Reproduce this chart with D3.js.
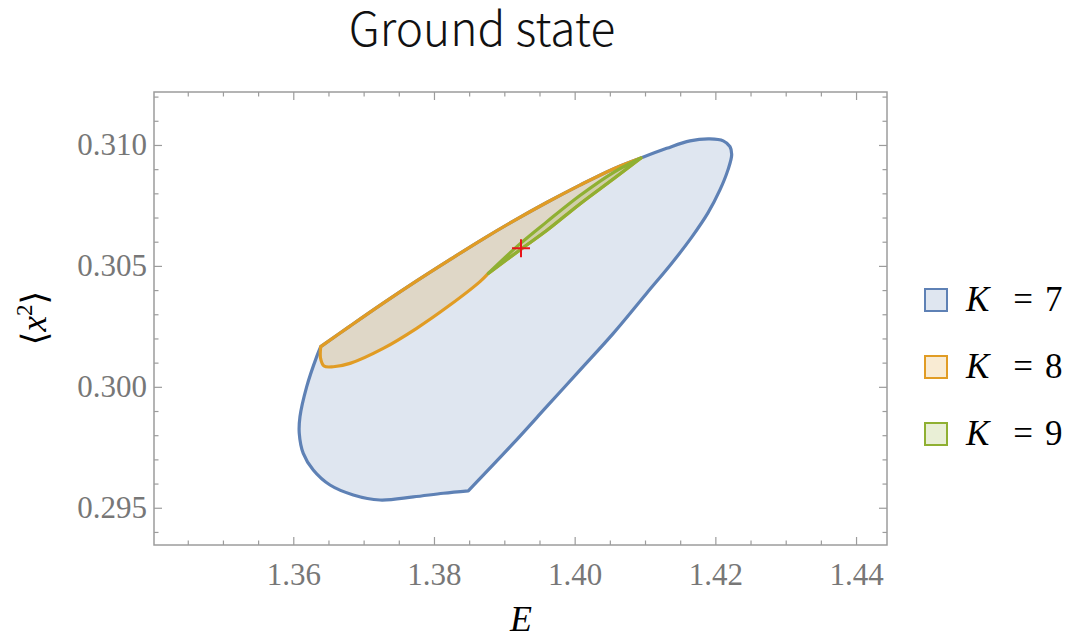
<!DOCTYPE html>
<html>
<head>
<meta charset="utf-8">
<script src="https://cdn.jsdelivr.net/npm/d3@7"></script>
<style>
  body { margin: 0; background: #fff; }
  svg { display: block; }
</style>
</head>
<body>
<svg id="chart" width="1071" height="638"></svg>
<script>
/* Ground state: allowed (E, <x^2>) regions for K = 7, 8, 9 */

// axis ticks
const xMajor = [1.36, 1.38, 1.40, 1.42, 1.44];
const yMajor = [0.295, 0.300, 0.305, 0.310];
const legendLabels = ['7', '8', '9'];

// K = 8 upper edge, also the top edge of K = 7 (left corner -> right tip)
const k8Upper = [
  [1.36390, 0.30166], [1.36806, 0.30251], [1.37279, 0.30346], [1.37754, 0.30438],
  [1.38227, 0.30526], [1.38701, 0.30612], [1.39127, 0.30685], [1.39602, 0.30762],
  [1.40075, 0.30834], [1.40549, 0.30901], [1.40942, 0.30946]
];
// K = 7 right cap and right edge (tip -> bottom corner)
const k7Right = [
  [1.40942, 0.30946], [1.41308, 0.30986], [1.41639, 0.31017], [1.41923, 0.31025],
  [1.42112, 0.31017], [1.42208, 0.30993], [1.42232, 0.30959], [1.42179, 0.30897],
  [1.42065, 0.30814], [1.41895, 0.30719], [1.41667, 0.30620], [1.41383, 0.30512],
  [1.41024, 0.30387], [1.40549, 0.30221], [1.40075, 0.30069], [1.39602, 0.29918],
  [1.39127, 0.29766], [1.38488, 0.29570]
];
// K = 7 bottom and left edge (bottom corner -> left corner)
const k7Left = [
  [1.38488, 0.29570], [1.38132, 0.29560], [1.37706, 0.29545], [1.37232, 0.29532],
  [1.36853, 0.29553], [1.36522, 0.29594], [1.36284, 0.29656], [1.36142, 0.29725],
  [1.36085, 0.29808], [1.36095, 0.29876], [1.36190, 0.30000], [1.36333, 0.30125],
  [1.36390, 0.30166]
];
// K = 9 lens (left tip -> right tip)
const k9Upper = [
  [1.38772, 0.30469], [1.39222, 0.30591], [1.39602, 0.30682], [1.40075, 0.30791],
  [1.40549, 0.30886], [1.40942, 0.30946]
];
const k9Lower = [
  [1.38772, 0.30469], [1.39222, 0.30566], [1.39602, 0.30646], [1.40075, 0.30756],
  [1.40549, 0.30859], [1.40942, 0.30946]
];
// K = 8 lower edge (K = 9 left tip -> left corner)
const k8Lower = [
  [1.38772, 0.30469], [1.38654, 0.30435], [1.38227, 0.30338], [1.37754, 0.30242],
  [1.37279, 0.30159], [1.36806, 0.30097], [1.36569, 0.30083], [1.36436, 0.30086],
  [1.36387, 0.30119], [1.36390, 0.30166]
];
// marked point
const groundPoint = [1.39237, 0.30573];

const colors = ['#5e81b5', '#e19c24', '#8fb032'];

const svg = d3.select('#chart');
const plotLeft = 154, plotRight = 887, plotTop = 92, plotBottom = 545;

const x = d3.scaleLinear().domain([1.3402, 1.4444]).range([plotLeft, plotRight]);
const y = d3.scaleLinear().domain([0.29346, 0.31219]).range([plotBottom, plotTop]);

// title
svg.append('text')
  .attr('x', 482).attr('y', 46)
  .attr('text-anchor', 'middle')
  .style('font-family', '"Noto Sans CJK JP", "Noto Sans", sans-serif')
  .style('font-weight', 300)
  .style('font-size', '46px')
  .attr('fill', '#111')
  .text('Ground state');

// regions
svg.append('clipPath').attr('id', 'plotClip')
  .append('rect').attr('x', plotLeft).attr('y', plotTop)
  .attr('width', plotRight - plotLeft).attr('height', plotBottom - plotTop);

const line = d3.line()
  .x(d => x(d[0]))
  .y(d => y(d[1]))
  .curve(d3.curveCatmullRom.alpha(0.5));

// join several smooth pieces into one closed outline (corners between pieces)
function outline(pieces) {
  return pieces.map((p, i) => {
    const d = line(p);
    return i === 0 ? d : 'L' + d.slice(1);
  }).join('') + 'Z';
}

const regions = [
  [k8Upper, k7Right, k7Left],
  [k8Upper, k9Lower.slice().reverse(), k8Lower],
  [k9Upper, k9Lower.slice().reverse()]
];

const plot = svg.append('g').attr('clip-path', 'url(#plotClip)');
plot.selectAll('path.region').data(regions).enter().append('path')
  .attr('class', 'region')
  .attr('d', d => outline(d))
  .attr('fill', (d, i) => colors[i])
  .attr('fill-opacity', 0.2)
  .attr('stroke', (d, i) => colors[i])
  .attr('stroke-width', 3.2)
  .attr('stroke-linejoin', 'round');

// red cross
const cross = plot.append('g').attr('stroke', '#e8141b').attr('stroke-width', 2);
cross.append('line')
  .attr('x1', x(groundPoint[0]) - 9).attr('x2', x(groundPoint[0]) + 9)
  .attr('y1', y(groundPoint[1])).attr('y2', y(groundPoint[1]));
cross.append('line')
  .attr('x1', x(groundPoint[0])).attr('x2', x(groundPoint[0]))
  .attr('y1', y(groundPoint[1]) - 9).attr('y2', y(groundPoint[1]) + 9);

// frame + ticks (inward on all sides)
const frameColor = '#9c9c9c';
const xMinor = d3.range(1.345, 1.4441, 0.005).filter(v => !xMajor.some(m => Math.abs(m - v) < 1e-6));
const yMinor = d3.range(0.294, 0.3121, 0.001).filter(v => !yMajor.some(m => Math.abs(m - v) < 1e-6));

function tickAxis(axis, transform, values, size, fmt) {
  const g = svg.append('g').attr('transform', transform)
    .call(axis.tickValues(values).tickSizeInner(-size).tickSizeOuter(0).tickFormat(fmt || ''));
  g.select('.domain').remove();
  g.selectAll('.tick line').attr('stroke', frameColor).attr('stroke-width', 1.2);
  return g;
}

const xb = tickAxis(d3.axisBottom(x), `translate(0,${plotBottom})`, xMajor, 8, d3.format('.2f'));
tickAxis(d3.axisBottom(x), `translate(0,${plotBottom})`, xMinor, 4.5);
tickAxis(d3.axisTop(x), `translate(0,${plotTop})`, xMajor, 8);
tickAxis(d3.axisTop(x), `translate(0,${plotTop})`, xMinor, 4.5);
const yl = tickAxis(d3.axisLeft(y), `translate(${plotLeft},0)`, yMajor, 8, d3.format('.3f'));
tickAxis(d3.axisLeft(y), `translate(${plotLeft},0)`, yMinor, 4.5);
tickAxis(d3.axisRight(y), `translate(${plotRight},0)`, yMajor, 8);
tickAxis(d3.axisRight(y), `translate(${plotRight},0)`, yMinor, 4.5);

const serif = '"Liberation Serif", "DejaVu Serif", serif';
xb.selectAll('.tick text').attr('y', 18);
yl.selectAll('.tick text').attr('x', -7);
[xb, yl].forEach(g => g.selectAll('.tick text')
  .attr('fill', '#777')
  .style('font-family', serif)
  .style('font-size', '31px'));

svg.append('rect')
  .attr('x', plotLeft).attr('y', plotTop)
  .attr('width', plotRight - plotLeft).attr('height', plotBottom - plotTop)
  .attr('fill', 'none').attr('stroke', frameColor).attr('stroke-width', 1.5);

// axis labels
svg.append('text')
  .attr('x', 521).attr('y', 631)
  .attr('text-anchor', 'middle')
  .style('font-family', serif).style('font-style', 'italic').style('font-size', '36px')
  .text('E');

const ylab = svg.append('text')
  .attr('transform', 'translate(46,318) rotate(-90)')
  .attr('text-anchor', 'middle')
  .style('font-family', serif).style('font-size', '35px');
ylab.append('tspan').text('\u27E8');
ylab.append('tspan').style('font-style', 'italic').text('x');
ylab.append('tspan').attr('dy', -14).style('font-size', '23px').text('2');
ylab.append('tspan').attr('dy', 14).text('\u27E9');

// legend
const legend = svg.append('g').selectAll('g').data(legendLabels).enter().append('g')
  .attr('transform', (d, i) => `translate(0,${300 + i * 67})`);
legend.append('rect')
  .attr('x', 925).attr('y', -11).attr('width', 22).attr('height', 22)
  .attr('fill', (d, i) => colors[i]).attr('fill-opacity', 0.2)
  .attr('stroke', (d, i) => colors[i]).attr('stroke-width', 2);
legend.append('text')
  .attr('x', 966).attr('y', 11)
  .style('font-family', serif).style('font-style', 'italic').style('font-size', '35px')
  .text('K');
legend.append('text')
  .attr('x', 1023).attr('y', 11).attr('text-anchor', 'middle')
  .style('font-family', serif).style('font-size', '35px')
  .text('=');
legend.append('text')
  .attr('x', 1045).attr('y', 11)
  .style('font-family', serif).style('font-size', '35px')
  .text(d => d);
</script>
</body>
</html>
